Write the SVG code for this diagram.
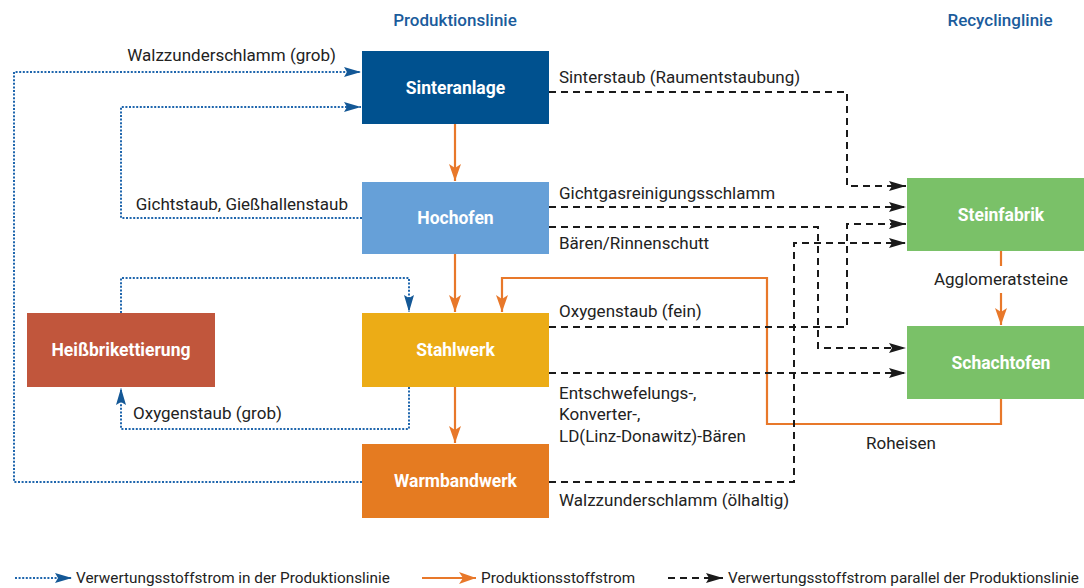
<svg xmlns="http://www.w3.org/2000/svg" width="1084" height="588" viewBox="0 0 1084 588">
  <style>
    .lbl { font-family: Roboto, "Liberation Sans", sans-serif; font-size: 17px; fill: #222; }
    .node { font-family: Roboto, "Liberation Sans", sans-serif; font-size: 17.5px; font-weight: bold; fill: #fff; text-anchor: middle; dominant-baseline: central; }
    .ttl { font-family: Roboto, "Liberation Sans", sans-serif; font-size: 17px; font-weight: 500; fill: #1b5c9c; text-anchor: middle; }
    .leg { font-family: Roboto, "Liberation Sans", sans-serif; font-size: 15.3px; fill: #222; }
    .d { fill: none; stroke: #1a1a1a; stroke-width: 2; stroke-dasharray: 7 5; }
    .b { fill: none; stroke: #1f66ad; stroke-width: 2; stroke-dasharray: 2 1.6; }
    .o { fill: none; stroke: #e8782a; stroke-width: 2.2; }
  </style>
  <defs>
    <marker id="ab" markerUnits="userSpaceOnUse" markerWidth="18" markerHeight="12" refX="17" refY="5" orient="auto">
      <path d="M0,0 L17,5 L0,10 L3,5 z" fill="#1a1a1a"/>
    </marker>
    <marker id="au" markerUnits="userSpaceOnUse" markerWidth="18" markerHeight="12" refX="17" refY="5" orient="auto">
      <path d="M0,0 L17,5 L0,10 L3,5 z" fill="#145896"/>
    </marker>
    <marker id="ao" markerUnits="userSpaceOnUse" markerWidth="18" markerHeight="14" refX="17" refY="6" orient="auto">
      <path d="M0,0 L17,6 L0,12 L4,6 z" fill="#e8782a"/>
    </marker>
  </defs>

  <rect width="1084" height="588" fill="#fff"/>

  <!-- column headings -->
  <text class="ttl" x="455" y="26">Produktionslinie</text>
  <text class="ttl" x="1000" y="26">Recyclinglinie</text>

  <!-- connectors -->
  <g id="connectors">
    <!-- recycling inside the production line (dotted blue) -->
    <path class="b" d="M362,482 H14 V72 H361" marker-end="url(#au)"/>
    <path class="b" d="M362,218 H121 V107 H361" marker-end="url(#au)"/>
    <path class="b" d="M121,313 V278 H409 V312" marker-end="url(#au)"/>
    <path class="b" d="M409,387 V429 H121 V388" marker-end="url(#au)"/>

    <!-- production flow (orange) -->
    <path class="o" d="M455,124 V181" marker-end="url(#ao)"/>
    <path class="o" d="M455,254 V312" marker-end="url(#ao)"/>
    <path class="o" d="M455,387 V443" marker-end="url(#ao)"/>
    <path class="o" d="M1001,399 V424 H767 V278 H502 V312" marker-end="url(#ao)"/>
    <path class="o" d="M1001,251 V266"/>
    <path class="o" d="M1001,293 V325" marker-end="url(#ao)"/>

    <!-- recycling parallel to the production line (dashed black) -->
    <path class="d" d="M549,92 H847 V186 H906" marker-end="url(#ab)"/>
    <path class="d" d="M549,207 H906" marker-end="url(#ab)"/>
    <path class="d" d="M549,227 H818 V348 H906" marker-end="url(#ab)"/>
    <path class="d" d="M549,327 H847 V224 H906" marker-end="url(#ab)"/>
    <path class="d" d="M549,373 H906" marker-end="url(#ab)"/>
    <path class="d" d="M549,482 H794 V243 H906" marker-end="url(#ab)"/>
  </g>

  <!-- flow labels -->
  <g id="labels">
    <text class="lbl" x="336" y="61" text-anchor="end">Walzzunderschlamm (grob)</text>
    <text class="lbl" x="348" y="210" text-anchor="end">Gichtstaub, Gießhallenstaub</text>
    <text class="lbl" x="133" y="419">Oxygenstaub (grob)</text>
    <text class="lbl" x="559" y="83">Sinterstaub (Raumentstaubung)</text>
    <text class="lbl" x="559" y="199">Gichtgasreinigungsschlamm</text>
    <text class="lbl" x="559" y="249">Bären/Rinnenschutt</text>
    <text class="lbl" x="559" y="317">Oxygenstaub (fein)</text>
    <text class="lbl" x="559" y="399">Entschwefelungs-,</text>
    <text class="lbl" x="559" y="420">Konverter-,</text>
    <text class="lbl" x="559" y="442">LD(Linz-Donawitz)-Bären</text>
    <text class="lbl" x="559" y="506">Walzzunderschlamm (ölhaltig)</text>
    <text class="lbl" x="901" y="449" text-anchor="middle">Roheisen</text>
    <text class="lbl" x="1001" y="285" text-anchor="middle">Agglomeratsteine</text>
  </g>

  <!-- production line -->
  <g id="sinteranlage">
    <rect x="362" y="51" width="187" height="73" fill="#00518f"/>
    <text class="node" x="455.5" y="87.5">Sinteranlage</text>
  </g>
  <g id="hochofen">
    <rect x="362" y="182" width="187" height="72" fill="#66a0d8"/>
    <text class="node" x="455.5" y="218">Hochofen</text>
  </g>
  <g id="stahlwerk">
    <rect x="362" y="313" width="187" height="74" fill="#ecac16"/>
    <text class="node" x="455.5" y="350">Stahlwerk</text>
  </g>
  <g id="warmbandwerk">
    <rect x="362" y="444" width="187" height="74" fill="#e57b21"/>
    <text class="node" x="455.5" y="481">Warmbandwerk</text>
  </g>
  <g id="heissbrikettierung">
    <rect x="27" y="313" width="188" height="74" fill="#c1563c"/>
    <text class="node" x="121" y="350">Heißbrikettierung</text>
  </g>

  <!-- recycling line -->
  <g id="steinfabrik">
    <rect x="907" y="178" width="188" height="73" fill="#7ac168"/>
    <text class="node" x="1001" y="214.5">Steinfabrik</text>
  </g>
  <g id="schachtofen">
    <rect x="907" y="326" width="188" height="73" fill="#7ac168"/>
    <text class="node" x="1001" y="362.5">Schachtofen</text>
  </g>

  <!-- legend -->
  <g id="legend">
    <path class="b" d="M15,578 H72" marker-end="url(#au)"/>
    <text class="leg" x="76" y="583">Verwertungsstoffstrom in der Produktionslinie</text>
    <path class="o" d="M422,578 H476" marker-end="url(#ao)"/>
    <text class="leg" x="481" y="583">Produktionsstoffstrom</text>
    <path class="d" d="M668,578 H723" marker-end="url(#ab)"/>
    <text class="leg" x="728" y="583">Verwertungsstoffstrom parallel der Produktionslinie</text>
  </g>
</svg>
